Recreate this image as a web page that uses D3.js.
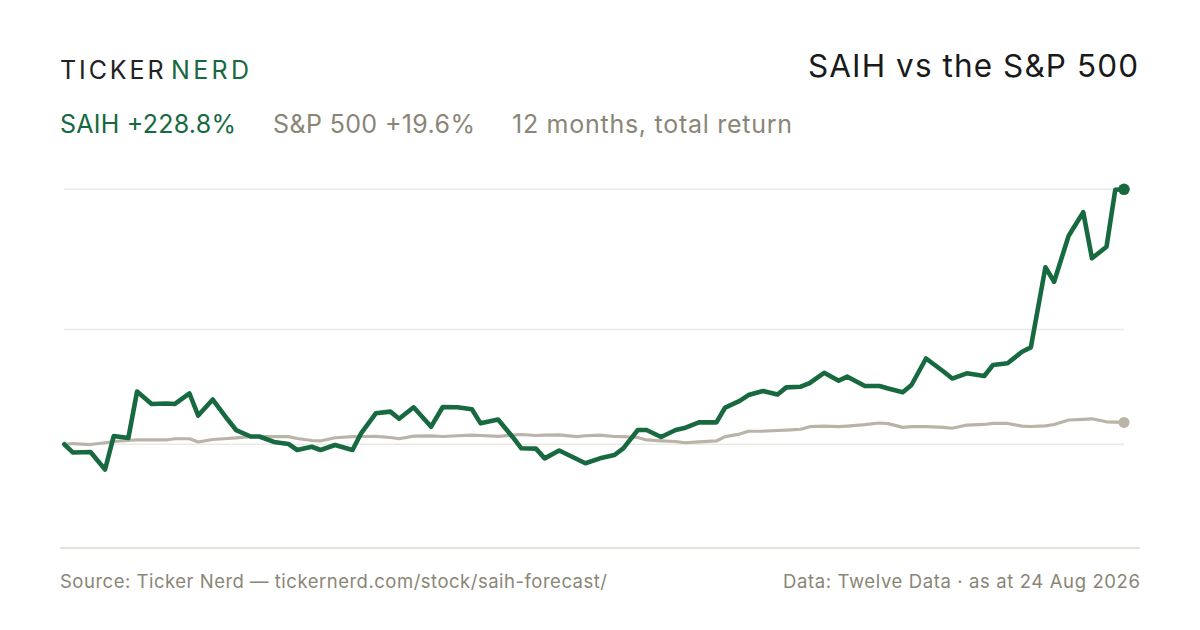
<!DOCTYPE html>
<html>
<head>
<meta charset="utf-8">
<script src="https://cdn.jsdelivr.net/npm/d3@7"></script>
<style>
  html, body { margin: 0; padding: 0; background: #ffffff; }
  svg { display: block; }
</style>
</head>
<body>
<svg id="chart" width="1200" height="630"></svg>
<script>
const dates = [
  "2025-08-25","2025-08-28","2025-09-03","2025-09-08","2025-09-11","2025-09-16","2025-09-19","2025-09-24","2025-09-29","2025-10-02",
  "2025-10-07","2025-10-10","2025-10-15","2025-10-20","2025-10-23","2025-10-28","2025-10-31","2025-11-05","2025-11-10","2025-11-13",
  "2025-11-18","2025-11-21","2025-11-26","2025-12-02","2025-12-05","2025-12-10","2025-12-15","2025-12-18","2025-12-23","2025-12-29",
  "2026-01-02","2026-01-07","2026-01-12","2026-01-15","2026-01-21","2026-01-26","2026-01-29","2026-02-03","2026-02-06","2026-02-11",
  "2026-02-17","2026-02-20","2026-02-25","2026-03-02","2026-03-05","2026-03-10","2026-03-13","2026-03-18","2026-03-23","2026-03-26",
  "2026-03-31","2026-04-06","2026-04-09","2026-04-14","2026-04-17","2026-04-22","2026-04-27","2026-04-30","2026-05-05","2026-05-08",
  "2026-05-13","2026-05-18","2026-05-21","2026-05-27","2026-06-01","2026-06-04","2026-06-09","2026-06-12","2026-06-17","2026-06-23",
  "2026-06-26","2026-07-01","2026-07-07","2026-07-10","2026-07-15","2026-07-20","2026-07-23","2026-07-28","2026-07-31","2026-08-05",
  "2026-08-10","2026-08-13","2026-08-18","2026-08-21","2026-08-24"
];

const saihReturn = [
  0, -7.4, -6.9, -22.6, 7.5, 5.7, 47.4, 36.2, 36.6, 36.2,
  45.6, 25.8, 40.2, 22.7, 12.8, 7.0, 7.0, 2.1, 0.3, -5.1,
  -2.2, -5.1, -0.6, -5.1, 10.1, 27.8, 29.3, 22.9, 33.2, 15.8,
  33.5, 33.2, 31.4, 18.8, 22.3, 6.6, -3.6, -3.9, -12.6, -5.6,
  -13.2, -17.0, -12.6, -9.6, -3.6, 12.8, 12.8, 6.6, 12.8, 14.6,
  19.7, 19.7, 33.0, 38.9, 44.2, 47.8, 44.7, 51.1, 51.7, 55.0,
  64.2, 57.1, 60.7, 52.3, 52.3, 50.1, 46.7, 53.2, 77.0, 65.3,
  59.0, 63.7, 61.3, 71.2, 72.7, 83.1, 87.0, 158.8, 145.9, 187.2,
  208.2, 166.9, 177.3, 228.4, 228.8
];

const spxReturn = [
  0, 0.7, -0.2, 1.4, 2.5, 3.6, 3.9, 3.9, 3.9, 5.0,
  5.0, 2.1, 4.3, 5.2, 5.7, 6.9, 6.9, 6.9, 6.9, 5.2,
  3.4, 3.0, 5.9, 6.9, 7.0, 7.2, 6.1, 5.0, 7.4, 7.6,
  7.0, 7.7, 8.3, 7.9, 7.2, 8.3, 8.8, 7.9, 8.3, 8.5,
  6.9, 7.7, 8.3, 7.0, 6.9, 6.1, 3.9, 3.1, 2.5, 1.4,
  2.1, 3.0, 6.9, 9.2, 11.7, 11.8, 12.4, 12.8, 13.5, 15.8,
  16.4, 15.8, 16.4, 17.7, 19.1, 18.6, 15.2, 15.8, 15.8, 15.2,
  14.4, 17.3, 17.8, 18.8, 18.7, 16.3, 16.0, 16.5, 17.8, 21.8,
  22.4, 22.9, 20.2, 19.9, 19.6
];

const brandWords = ["TICKER", "NERD"];
const titleText = "SAIH vs the S&P 500";
const legendItems = ["SAIH +228.8%", "S&P 500 +19.6%", "12 months, total return"];
const footerLeft = "Source: Ticker Nerd \u2014 tickernerd.com/stock/saih-forecast/";
const footerRight = "Data: Twelve Data \u00b7 as at 24 Aug 2026";

const GREEN = "#17693f";
const GREY_LINE = "#bab3a8";
const GREY_TEXT = "#8a8677";
const FONT = "Inter, 'Noto Sans', sans-serif";

const svg = d3.select("#chart");
const parse = d3.timeParse("%Y-%m-%d");
const pts = dates.map((d, i) => ({ date: parse(d), saih: saihReturn[i], spx: spxReturn[i] }));

const minV = d3.min(pts, d => Math.min(d.saih, d.spx));
const maxV = d3.max(pts, d => Math.max(d.saih, d.spx));

const x = d3.scaleTime()
  .domain(d3.extent(pts, d => d.date))
  .range([64.3, 1124]);
const y = d3.scaleLinear()
  .domain([minV, maxV])
  .range([469.5, 189.3]);

// gridlines: top, middle of range, zero
const gridValues = [maxV, (minV + maxV) / 2, 0];
svg.append("g").selectAll("line").data(gridValues).join("line")
  .attr("x1", 64).attr("x2", 1124)
  .attr("y1", d => y(d)).attr("y2", d => y(d))
  .attr("stroke", "#ece9e3").attr("stroke-width", 1.5);

// S&P line
svg.append("path").datum(pts)
  .attr("fill", "none").attr("stroke", GREY_LINE).attr("stroke-width", 3.2)
  .attr("stroke-linejoin", "round").attr("stroke-linecap", "round")
  .attr("d", d3.line().x(d => x(d.date)).y(d => y(d.spx)));

// SAIH line
svg.append("path").datum(pts)
  .attr("fill", "none").attr("stroke", GREEN).attr("stroke-width", 4.6)
  .attr("stroke-linejoin", "round").attr("stroke-linecap", "round")
  .attr("d", d3.line().x(d => x(d.date)).y(d => y(d.saih)));

const last = pts[pts.length - 1];
svg.append("circle").attr("cx", x(last.date)).attr("cy", y(last.spx)).attr("r", 5.5).attr("fill", GREY_LINE);
svg.append("circle").attr("cx", x(last.date)).attr("cy", y(last.saih)).attr("r", 5.8).attr("fill", GREEN);

// bottom separator
svg.append("line").attr("x1", 60).attr("x2", 1140).attr("y1", 548).attr("y2", 548)
  .attr("stroke", "#dedad1").attr("stroke-width", 1.5);

function txt(str, opts) {
  const t = svg.append("text")
    .attr("x", opts.x).attr("y", opts.y)
    .attr("font-family", FONT).attr("font-size", opts.size)
    .attr("fill", opts.fill)
    .attr("text-anchor", opts.anchor || "start")
    .text(str);
  if (opts.len) t.attr("textLength", opts.len).attr("lengthAdjust", "spacing");
  return t;
}

// brand
txt(brandWords[0], { x: 60, y: 79.3, size: 25, fill: "#222222", len: 103.5 });
txt(brandWords[1], { x: 171, y: 79.3, size: 25, fill: GREEN, len: 78 });

// title
txt(titleText, { x: 1138, y: 77, size: 31.5, fill: "#1a1a1a", anchor: "end", len: 330 });

// legend / subtitle
const legendX = [60, 273, 512];
const legendLen = [176, 202, 280];
const legendColors = [GREEN, GREY_TEXT, GREY_TEXT];
legendItems.forEach((s, i) => txt(s, { x: legendX[i], y: 132.7, size: 25, fill: legendColors[i], len: legendLen[i] }));

// footer
txt(footerLeft, { x: 60, y: 588, size: 18.5, fill: GREY_TEXT, len: 547 });
txt(footerRight, { x: 1140, y: 588, size: 18.5, fill: GREY_TEXT, anchor: "end", len: 357 });
</script>
</body>
</html>
